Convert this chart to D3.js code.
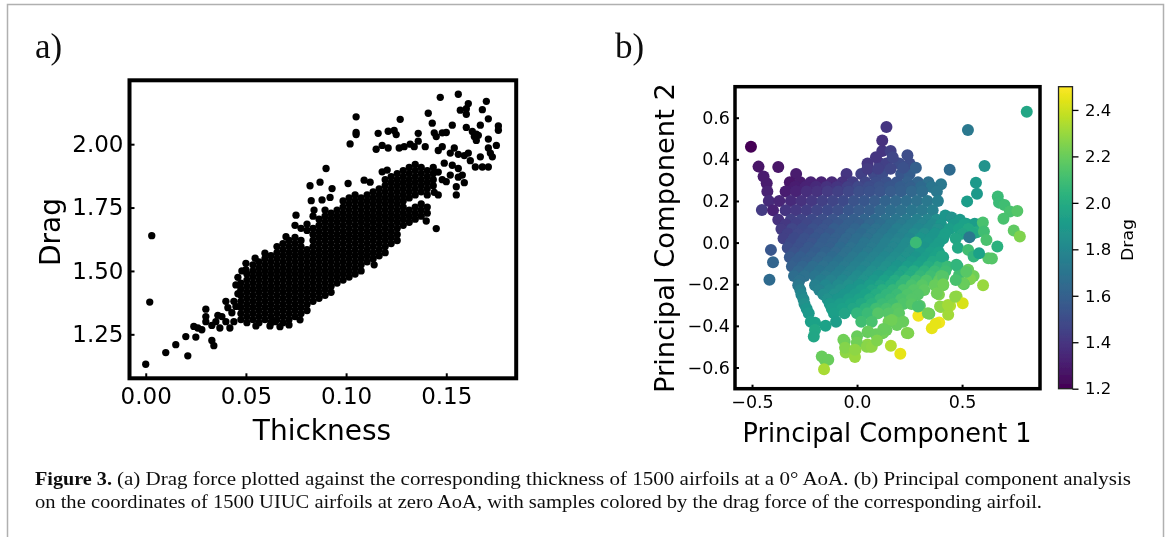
<!DOCTYPE html>
<html>
<head>
<meta charset="utf-8">
<script src="https://cdn.jsdelivr.net/npm/d3@7"></script>
<style>
html,body{margin:0;padding:0;background:#fff;}
svg{display:block;}
.mpl{font-family:"DejaVu Sans";fill:#000;}
.serif{font-family:"Liberation Serif";fill:#111;}
</style>
</head>
<body>
<svg id="fig" width="1167" height="537"></svg>
<script>
// panel a, scattered points read one by one: [thickness, drag]
var looseA=[[0,1.132],[.010,1.178],[.015,1.209],[.020,1.241],[.021,1.165],[.025,1.239],[.033,1.226],[.034,1.205],[.002,1.377],[.003,1.639],
[.024,1.281],[.026,1.275],[.028,1.268],[.030,1.349],[.030,1.32],[.030,1.30],[.033,1.285],[.036,1.325],[.038,1.32],[.040,1.38],[.041,1.355],[.037,1.275],[.042,1.275],[.044,1.30],[.044,1.38],[.046,1.41],[.045,1.445],[.050,1.53],[.050,1.505],[.0546,1.55],[.0595,1.57],[.0646,1.30],
[.043,1.335],[.045,1.36],[.040,1.30],[.035,1.30],[.046,1.475],[.048,1.50],[.055,1.283],[.062,1.283],[.067,1.28],
[.0715,1.287],[.077,1.307],[.070,1.635],[.075,1.72],[.084,1.74],[.082,1.836],[.0826,1.777],[.087,1.85],[.09,1.904],[.093,1.825],[.092,1.79],[.088,1.78],[.101,1.845],[.109,1.858],[.112,1.85],[.118,1.891],[.1205,1.898],[.14,1.697],[.145,1.667],[.114,1.524],
[.156,2.197],[.147,2.185],[.170,2.169],[.161,2.16],[.168,2.136],[.157,2.134],[.160,2.14],[.160,2.118],[.141,2.122],[.105,2.108],[.127,2.098],[.171,2.10],[.143,2.083],[.176,2.072],[.176,2.055],[.167,2.075],[.160,2.066],[.153,2.075],[.121,2.051],[.124,2.054],[.116,2.043],[.105,2.046],[.105,2.038],[.102,2.001],[.125,2.038],[.136,2.043],[.144,2.045],[.150,2.046],[.148,2.045],[.145,2.03],[.163,2.05],[.165,2.04],
[.115,1.98],[.118,1.995],[.121,1.985],[.1265,1.985],[.129,1.99],[.132,2.0],[.134,1.99],[.136,2.012],[.1395,1.99],[.146,1.975],[.148,1.99],[.152,1.965],[.156,1.96],[.159,1.955],[.154,1.985],[.161,1.965],[.162,1.935],[.1645,1.91],[.168,1.91],[.171,1.91],[.167,1.95],[.171,1.985],[.173,1.95],[.172,1.965],[.175,1.995],[.171,2.02],[.164,2.03],[.166,2.035],[.165,2.015],
[.149,1.925],[.153,1.917],[.156,1.904],[.152,1.878],[.15,1.852],[.158,1.878],[.159,1.848],[.156,1.87],[.155,1.832],[.155,1.80],[.146,1.89],[.148,1.86],[.144,1.81],[.146,1.80]];

// panel a, the saturated band read column by column: thickness first, then the drags there
var bandA=[[.0475,1.308,1.332,1.356,1.38,1.404,1.428,1.452],
[.0505,1.296,1.32,1.344,1.368,1.392,1.416,1.44,1.464,1.488],
[.0535,1.308,1.332,1.356,1.38,1.404,1.428,1.452,1.476,1.50,1.524],
[.0565,1.296,1.32,1.344,1.368,1.392,1.416,1.44,1.464,1.488,1.512,1.536],
[.0595,1.308,1.332,1.356,1.38,1.404,1.428,1.452,1.476,1.50,1.524,1.548],
[.0625,1.296,1.32,1.344,1.368,1.392,1.416,1.44,1.464,1.488,1.512,1.536,1.56],
[.0655,1.308,1.332,1.356,1.38,1.404,1.428,1.452,1.476,1.50,1.524,1.548,1.572,1.596],
[.0685,1.296,1.32,1.344,1.368,1.392,1.416,1.44,1.464,1.488,1.512,1.536,1.56,1.584,1.608],
[.0715,1.308,1.332,1.356,1.38,1.404,1.428,1.452,1.476,1.50,1.524,1.548,1.572,1.596,1.62],
[.0745,1.32,1.344,1.368,1.392,1.416,1.44,1.464,1.488,1.512,1.536,1.56,1.584,1.608,1.632,1.68],
[.0775,1.332,1.356,1.38,1.404,1.428,1.452,1.476,1.50,1.524,1.548,1.572,1.596,1.62,1.668],
[.0805,1.344,1.368,1.392,1.416,1.44,1.464,1.488,1.512,1.536,1.56,1.584,1.66,1.685],
[.0835,1.38,1.404,1.428,1.452,1.476,1.50,1.524,1.548,1.572,1.596,1.62,1.644,1.668,1.716],
[.0865,1.392,1.416,1.44,1.464,1.488,1.512,1.536,1.56,1.584,1.608,1.632,1.656,1.68,1.704],
[.0895,1.404,1.428,1.452,1.476,1.50,1.524,1.548,1.572,1.596,1.62,1.644,1.668,1.692,1.716,1.74],
[.0925,1.416,1.44,1.464,1.488,1.512,1.536,1.56,1.584,1.608,1.632,1.656,1.68,1.704,1.728],
[.0955,1.452,1.476,1.50,1.524,1.548,1.572,1.596,1.62,1.644,1.668,1.692,1.716,1.74],
[.0985,1.464,1.488,1.512,1.536,1.56,1.584,1.608,1.632,1.656,1.68,1.704,1.728,1.752,1.776],
[.1015,1.476,1.50,1.524,1.548,1.572,1.596,1.62,1.644,1.668,1.692,1.716,1.74,1.764,1.788],
[.1045,1.488,1.512,1.536,1.56,1.584,1.608,1.632,1.656,1.68,1.704,1.728,1.752,1.776,1.80],
[.1075,1.50,1.524,1.548,1.572,1.596,1.62,1.644,1.668,1.692,1.716,1.74,1.764,1.788],
[.1105,1.536,1.56,1.584,1.608,1.632,1.656,1.68,1.704,1.728,1.752,1.776,1.80],
[.1135,1.548,1.572,1.596,1.62,1.644,1.668,1.692,1.716,1.74,1.764,1.788,1.812],
[.1165,1.56,1.584,1.608,1.632,1.656,1.68,1.704,1.728,1.752,1.776,1.80,1.824],
[.1195,1.572,1.596,1.62,1.644,1.668,1.692,1.716,1.74,1.764,1.788,1.812,1.836,1.86],
[.1225,1.608,1.632,1.656,1.68,1.704,1.728,1.752,1.776,1.80,1.824,1.848,1.872],
[.1255,1.62,1.644,1.668,1.692,1.716,1.74,1.764,1.788,1.812,1.836,1.86,1.884],
[.1285,1.68,1.704,1.728,1.752,1.776,1.80,1.824,1.848,1.872,1.896],
[.1315,1.692,1.716,1.74,1.788,1.812,1.836,1.86,1.884,1.908],
[.1345,1.704,1.728,1.752,1.80,1.824,1.848,1.872,1.896,1.92],
[.1375,1.716,1.74,1.764,1.812,1.836,1.86,1.884,1.908],
[.1405,1.728,1.752,1.80,1.824,1.848,1.872,1.896],
[.1435,1.836,1.86,1.884,1.908]];

// panel b: [pc1, pc2, drag]
var pointsB=[[-.29,.33,1.30],[-.05,.33,1.40],[.02,.33,1.45],[.08,.33,1.48],[.12,.33,1.5],[.21,.33,1.55],[.25,.33,1.58],
[.05,.38,1.4],[.11,.38,1.42],[.14,.38,1.45],[.2,.38,1.5],[.25,.38,1.5],[.12,.44,1.4],[.16,.44,1.45],[.12,.49,1.38],[.09,.41,1.4],[.17,.41,1.47],[.22,.36,1.52],[.05,.355,1.42],[.10,.355,1.45],[.16,.355,1.47],[.24,.42,1.5],[.28,.36,1.6],
[-.32,.29,1.28],[-.27,.29,1.3],[-.22,.29,1.33],[-.17,.29,1.33],[-.12,.29,1.35],[-.07,.29,1.38],[-.02,.29,1.43],[.04,.29,1.46],[.09,.29,1.5],[.14,.29,1.52],[.19,.29,1.55],[.24,.29,1.6],[.29,.29,1.62],[.34,.29,1.68],[.40,.28,1.72],
[-.295,.2675,1.31],[-.245,.2675,1.33],[-.195,.2675,1.36],[-.145,.2675,1.39],[-.095,.2675,1.40],[-.045,.2675,1.44],[.005,.2675,1.48],[.055,.2675,1.5],[.105,.2675,1.53],[.155,.2675,1.55],[.205,.2675,1.58],[.255,.2675,1.6],[.305,.2675,1.65],[.355,.2675,1.7],
[-.43,.285,1.3],[-.427,.245,1.32],[-.34,.245,1.31],[-.29,.245,1.33],[-.24,.245,1.37],[-.19,.245,1.38],[-.14,.245,1.42],[-.09,.245,1.44],[-.04,.245,1.47],[.01,.245,1.51],[.06,.245,1.52],[.11,.245,1.54],[.16,.245,1.57],[.21,.245,1.59],[.26,.245,1.63],[.31,.245,1.66],[.38,.245,1.72],
[-.42,.20,1.36],[-.37,.20,1.34],[-.315,.20,1.36],[-.265,.20,1.38],[-.215,.20,1.41],[-.165,.20,1.44],[-.115,.20,1.46],[-.065,.20,1.49],[-.015,.20,1.53],[.035,.20,1.55],[.085,.20,1.57],[.135,.20,1.61],[.185,.20,1.63],[.235,.20,1.66],[.285,.20,1.68],[.335,.20,1.72],[.385,.20,1.75],
[-.453,.157,1.42],[-.40,.155,1.33],[-.34,.155,1.4],[-.29,.155,1.41],[-.24,.155,1.43],[-.19,.155,1.46],[-.14,.155,1.49],[-.09,.155,1.51],[-.04,.155,1.55],[.01,.155,1.57],[.06,.155,1.59],[.11,.155,1.63],[.16,.155,1.66],[.21,.155,1.68],[.26,.155,1.71],[.31,.155,1.73],[.36,.155,1.76],
[-.375,.11,1.38],[-.315,.11,1.44],[-.265,.11,1.46],[-.215,.11,1.49],[-.165,.11,1.51],[-.115,.11,1.54],[-.065,.11,1.57],[-.015,.11,1.59],[.035,.11,1.62],[.085,.11,1.65],[.135,.11,1.68],[.185,.11,1.7],[.235,.11,1.73],[.285,.11,1.76],[.335,.11,1.79],[.38,.11,1.84],[.42,.13,1.88],[.45,.12,1.87],[.49,.11,1.9],[.52,.09,1.93],[.56,.09,1.92],
[-.34,.0875,1.41],[-.29,.0875,1.45],[-.24,.0875,1.47],[-.19,.0875,1.5],[-.14,.0875,1.53],[-.09,.0875,1.56],[-.04,.0875,1.59],[.01,.0875,1.6],[.06,.0875,1.63],[.11,.0875,1.66],[.16,.0875,1.7],[.21,.0875,1.73],[.26,.0875,1.76],[.31,.0875,1.79],[.36,.0875,1.82],[.40,.0875,1.88],[.46,.0875,1.9],[.51,.0875,1.94],
[-.36,.065,1.42],[-.31,.065,1.47],[-.26,.065,1.49],[-.21,.065,1.52],[-.16,.065,1.54],[-.11,.065,1.58],[-.06,.065,1.6],[-.01,.065,1.62],[.04,.065,1.66],[.09,.065,1.68],[.14,.065,1.7],[.19,.065,1.75],[.24,.065,1.77],[.29,.065,1.8],[.34,.065,1.82],[.385,.065,1.86],[.44,.065,1.92],[.485,.065,1.95],[.53,.065,1.98],[.57,.05,2.0],
[-.33,.0425,1.45],[-.28,.0425,1.48],[-.23,.0425,1.5],[-.18,.0425,1.54],[-.13,.0425,1.56],[-.08,.0425,1.59],[-.03,.0425,1.63],[.02,.0425,1.65],[.07,.0425,1.68],[.12,.0425,1.71],[.17,.0425,1.74],[.22,.0425,1.78],[.27,.0425,1.82],[.32,.0425,1.85],[.37,.0425,1.88],[.42,.0425,1.93],[.5,.0425,1.96],[.55,.0425,1.98],
[-.35,.02,1.45],[-.3,.02,1.49],[-.25,.02,1.52],[-.2,.02,1.55],[-.15,.02,1.58],[-.10,.02,1.6],[-.05,.02,1.63],[0,.02,1.66],[.05,.02,1.68],[.1,.02,1.72],[.15,.02,1.75],[.2,.02,1.77],[.25,.02,1.8],[.3,.02,1.88],[.35,.02,1.88],[.41,.02,1.93],[.47,.02,1.97],
[-.315,-.0025,1.49],[-.265,-.0025,1.52],[-.215,-.0025,1.54],[-.165,-.0025,1.58],[-.115,-.0025,1.6],[-.065,-.0025,1.63],[-.015,-.0025,1.66],[.035,-.0025,1.7],[.085,-.0025,1.72],[.135,-.0025,1.76],[.185,-.0025,1.79],[.235,-.0025,1.82],[.285,-.0025,1.86],[.335,-.0025,1.89],[.39,-.0025,1.92],
[-.33,-.025,1.5],[-.28,-.025,1.52],[-.23,-.025,1.56],[-.18,-.025,1.59],[-.13,-.025,1.6],[-.08,-.025,1.65],[-.03,-.025,1.68],[.02,-.025,1.7],[.07,-.025,1.73],[.12,-.025,1.76],[.17,-.025,1.79],[.22,-.025,1.82],[.27,-.025,1.85],[.32,-.025,1.88],[.37,-.025,1.92],[.48,-.025,1.98],
[-.30,-.0475,1.53],[-.25,-.0475,1.56],[-.2,-.0475,1.58],[-.15,-.0475,1.61],[-.1,-.0475,1.64],[-.05,-.0475,1.67],[0,-.0475,1.7],[.05,-.0475,1.73],[.1,-.0475,1.76],[.15,-.0475,1.79],[.2,-.0475,1.82],[.25,-.0475,1.85],[.3,-.0475,1.9],[.35,-.0475,1.93],[.39,-.0475,1.95],
[-.32,-.07,1.56],[-.27,-.07,1.58],[-.22,-.07,1.6],[-.17,-.07,1.63],[-.12,-.07,1.65],[-.07,-.07,1.68],[-.02,-.07,1.72],[.03,-.07,1.75],[.08,-.07,1.77],[.13,-.07,1.8],[.18,-.07,1.83],[.23,-.07,1.86],[.28,-.07,1.88],[.33,-.07,1.92],[.37,-.07,1.95],[.41,-.07,1.96],
[-.29,-.0925,1.58],[-.24,-.0925,1.6],[-.19,-.0925,1.63],[-.14,-.0925,1.66],[-.09,-.0925,1.69],[-.04,-.0925,1.72],[.01,-.0925,1.75],[.06,-.0925,1.78],[.11,-.0925,1.81],[.16,-.0925,1.84],[.21,-.0925,1.87],[.26,-.0925,1.9],[.31,-.0925,1.93],[.36,-.0925,1.98],[.40,-.0925,2.0],
[-.31,-.115,1.6],[-.26,-.115,1.62],[-.21,-.115,1.66],[-.16,-.115,1.68],[-.11,-.115,1.7],[-.06,-.115,1.73],[-.01,-.115,1.76],[.04,-.115,1.79],[.09,-.115,1.82],[.14,-.115,1.85],[.19,-.115,1.88],[.24,-.115,1.92],[.29,-.115,1.95],[.34,-.115,2.0],[.39,-.115,2.05],[.43,-.115,2.08],
[-.28,-.1375,1.63],[-.23,-.1375,1.66],[-.18,-.1375,1.69],[-.13,-.1375,1.71],[-.08,-.1375,1.74],[-.03,-.1375,1.77],[.02,-.1375,1.8],[.07,-.1375,1.84],[.12,-.1375,1.87],[.17,-.1375,1.9],[.22,-.1375,1.96],[.27,-.1375,2.0],[.32,-.1375,2.04],[.37,-.1375,2.08],[.42,-.1375,2.1],
[-.30,-.16,1.66],[-.25,-.16,1.68],[-.2,-.16,1.7],[-.15,-.16,1.73],[-.1,-.16,1.75],[-.05,-.16,1.78],[0,-.16,1.82],[.05,-.16,1.85],[.1,-.16,1.88],[.15,-.16,1.92],[.2,-.16,1.96],[.25,-.16,2.0],[.3,-.16,2.06],[.35,-.16,2.1],[.40,-.16,2.15],
[-.275,-.1825,1.68],[-.175,-.1825,1.74],[-.125,-.1825,1.77],[-.07,-.1825,1.8],[-.02,-.1825,1.83],[.03,-.1825,1.87],[.08,-.1825,1.9],[.13,-.1825,1.95],[.18,-.1825,2.0],[.23,-.1825,2.06],[.28,-.1825,2.1],[.33,-.1825,2.14],[.39,-.1825,2.18],
[-.28,-.205,1.72],[-.2,-.205,1.76],[-.15,-.205,1.8],[-.09,-.205,1.82],[-.04,-.205,1.85],[.01,-.205,1.88],[.06,-.205,1.92],[.11,-.205,1.96],[.16,-.205,2.0],[.21,-.205,2.06],[.26,-.205,2.12],[.31,-.205,2.16],[.37,-.205,2.2],[.41,-.205,2.2],
[-.27,-.2275,1.76],[-.18,-.2275,1.78],[-.13,-.2275,1.82],[-.08,-.2275,1.85],[-.03,-.2275,1.88],[.02,-.2275,1.92],[.07,-.2275,1.96],[.12,-.2275,2.02],[.17,-.2275,2.06],[.22,-.2275,2.12],[.27,-.2275,2.15],[.32,-.2275,2.18],
[-.265,-.25,1.8],[-.16,-.25,1.83],[-.11,-.25,1.86],[-.06,-.25,1.88],[-.01,-.25,1.91],[.04,-.25,1.95],[.09,-.25,2.0],[.14,-.25,2.05],[.19,-.25,2.08],[.24,-.25,2.14],[.29,-.25,2.15],[.39,-.25,2.25],
[-.255,-.2725,1.82],[-.14,-.2725,1.86],[-.09,-.2725,1.88],[-.04,-.2725,1.92],[.01,-.2725,1.95],[.06,-.2725,2.0],[.11,-.2725,2.05],[.16,-.2725,2.08],[.21,-.2725,2.13],[.26,-.2725,2.15],
[-.25,-.295,1.85],[-.13,-.295,1.9],[-.08,-.295,1.92],[-.03,-.295,1.95],[.02,-.295,1.98],[.07,-.295,2.03],[.12,-.295,2.08],[.17,-.295,2.1],[.22,-.295,2.14],[.26,-.295,2.16],
[-.24,-.3175,1.88],[-.12,-.3175,1.92],[-.07,-.3175,1.94],[-.02,-.3175,1.97],[.04,-.3175,2.04],[.09,-.3175,2.1],[.14,-.3175,2.12],[.19,-.3175,2.16],
[-.23,-.34,1.9],[-.11,-.34,1.93],[-.06,-.34,1.96],[0,-.34,2.05],[.05,-.34,2.08],[.1,-.34,2.15],[.15,-.34,2.15],[.2,-.34,2.17],
[-.22,-.38,1.93],[-.2,-.385,1.95],[-.1,-.38,1.92],[.02,-.38,2.1],[.07,-.38,2.12],[.15,-.38,2.22],[.18,-.38,2.2],[.22,-.38,2.2],[.14,-.42,2.2],[-.2,-.42,1.98],[-.15,-.40,1.95],[-.206,-.451,1.97],
[-.505,.461,1.2],[-.469,.365,1.27],[-.375,.363,1.27],[-.445,.317,1.3],[.14,.555,1.4],[.528,.541,1.72],[.808,.629,1.97],[.441,.35,1.65],[.607,.368,1.87],[.566,.288,1.9],[.571,.235,1.9],[.524,.198,1.92],
[.67,.221,2.08],[.676,.192,2.08],[.702,.181,2.1],[.728,.149,2.12],[.763,.152,2.15],[.697,.114,2.12],[.746,.058,2.18],[.775,.029,2.25],[.668,-.019,2.03],[.535,.026,1.72],[.599,.096,2.12],[.604,.053,2.1],[.616,.013,2.12],[.625,-.075,2.15],[.642,-.077,2.15],[.529,-.035,2.1],[.555,-.067,2.05],[.581,-.051,1.95],[.28,.0,2.08],
[.478,-.112,2.05],[.486,-.155,2.1],[.529,-.131,2.2],[.555,-.16,2.22],[.538,-.176,2.25],[.509,-.2,2.18],[.6,-.205,2.3],[.474,-.259,2.3],[.503,-.291,2.42],[.443,-.304,2.35],[.40,-.31,2.3],[.434,-.347,2.32],[.391,-.384,2.47],[.356,-.411,2.45],[.374,-.39,2.45],[.344,-.342,2.2],[.292,-.352,2.47],[.299,-.304,2.15],[.244,-.435,2.25],[.206,-.534,2.45],[.161,-.496,2.35],[.123,-.435,2.2],[.062,-.50,2.3],[.05,-.43,2.18],[0,-.45,2.2],[-.059,-.475,2.2],[-.054,-.528,2.28],[-.007,-.515,2.3],[-.01,-.55,2.3],[.05,-.49,2.28],[-.154,-.563,2.2],[-.168,-.547,2.2],[-.137,-.563,2.2],[-.157,-.608,2.33],
[-.065,-.467,2.22],[-.057,-.505,2.26],[-.001,-.48,2.22],[-.01,-.515,2.28],[.053,-.427,2.2],[.046,-.5,2.27],[.07,-.5,2.28],[.118,-.434,2.22],[.125,-.415,2.2],[.19,-.396,2.2],[.237,-.434,2.25],[.165,-.372,2.22],[.29,-.307,2.12],[.337,-.34,2.22],[.395,-.307,2.28],[.433,-.3,2.32],[.467,-.26,2.28],[.38,-.243,2.22],[.473,-.107,2.05],[.52,-.14,2.16],[.505,-.195,2.2],[.403,-.067,1.98],[.41,-.163,2.15],[.41,-.2,2.22],[.47,-.18,2.12],[.09,-.44,2.2],[.095,-.47,2.25],
[-.417,-.179,1.65],[-.40,-.094,1.62],[-.41,-.035,1.55]];

var xTicksA=[0,.05,.10,.15];
var yTicksA=[1.25,1.50,1.75,2.00];
var xTicksB=[-.5,0,.5];
var yTicksB=[-.6,-.4,-.2,0,.2,.4,.6];
var dragTicks=[1.2,1.4,1.6,1.8,2.0,2.2,2.4];

var svg=d3.select("#fig");
var defs=svg.append("defs");

// the reference is a slightly soft raster
defs.append("filter").attr("id","soft")
	.attr("filterUnits","userSpaceOnUse")
	.attr("x",0).attr("y",0).attr("width",1167).attr("height",537)
	.append("feGaussianBlur").attr("stdDeviation",.4);
var root=svg.append("g").attr("filter","url(#soft)");

// page edge lines of the scanned article
root.append("path")
	.attr("d","M7.5,537V4.5H1163.5V537")
	.attr("fill","none")
	.attr("stroke","#b0b0b0")
	.attr("stroke-width",1.5);

function drawFrame(g,x,y,width){
	g.append("rect")
		.attr("x",x.range()[0])
		.attr("y",y.range()[1])
		.attr("width",x.range()[1]-x.range()[0])
		.attr("height",y.range()[0]-y.range()[1])
		.attr("fill","none")
		.attr("stroke","#000")
		.attr("stroke-width",width);
}

function styleAxis(sel,size,lineWidth){
	sel.select(".domain").remove();
	sel.selectAll("line").attr("stroke","#000").attr("stroke-width",lineWidth||2);
	sel.selectAll("text")
		.attr("class","mpl")
		.attr("fill","#000")
		.style("font-size",size+"px");
}

// panel a
var xA=d3.scaleLinear().domain([-.0081,.1849]).range([129.5,516.2]);
var yA=d3.scaleLinear().domain([1.0765,2.252]).range([378.3,80.3]);
var gA=root.append("g");

var bandPoints=bandA.flatMap(function(c){
	return c.slice(1).map(function(d){return [c[0],d];});
});

gA.selectAll("circle.a")
	.data(looseA.concat(bandPoints))
	.enter().append("circle")
	.attr("class","a")
	.attr("cx",function(d){return xA(d[0]);})
	.attr("cy",function(d){return yA(d[1]);})
	.attr("r",3.65)
	.attr("fill","#000");

gA.append("g").attr("transform","translate(0,378.3)")
	.call(d3.axisBottom(xA).tickValues(xTicksA).tickFormat(d3.format(".2f")).tickSize(-5).tickPadding(9.6))
	.call(styleAxis,23);
gA.append("g").attr("transform","translate(129.5,0)")
	.call(d3.axisLeft(yA).tickValues(yTicksA).tickFormat(d3.format(".2f")).tickSize(-5).tickPadding(6))
	.call(styleAxis,23);
drawFrame(gA,xA,yA,4);

gA.append("text").attr("class","mpl")
	.attr("x",322).attr("y",440).attr("text-anchor","middle")
	.style("font-size","28px").text("Thickness");
gA.append("text").attr("class","mpl")
	.attr("transform","translate(60,232) rotate(-90)").attr("text-anchor","middle")
	.style("font-size","28px").text("Drag");

// panel b
var xB=d3.scaleLinear().domain([-.581,.871]).range([735,1040]);
var yB=d3.scaleLinear().domain([-.702,.749]).range([388.7,86.7]);
var colorB=d3.scaleSequential(d3.interpolateViridis).domain([1.2,2.5]);
var gB=root.append("g");

gB.selectAll("circle.b")
	.data(pointsB)
	.enter().append("circle")
	.attr("class","b")
	.attr("cx",function(d){return xB(d[0]);})
	.attr("cy",function(d){return yB(d[1]);})
	.attr("r",6)
	.attr("fill",function(d){return colorB(d[2]);});

gB.append("g").attr("transform","translate(0,388.7)")
	.call(d3.axisBottom(xB).tickValues(xTicksB).tickFormat(d3.format(".1f")).tickSize(-4).tickPadding(7))
	.call(styleAxis,17.5);
gB.append("g").attr("transform","translate(735,0)")
	.call(d3.axisLeft(yB).tickValues(yTicksB).tickFormat(d3.format(".1f")).tickSize(-4).tickPadding(5))
	.call(styleAxis,17.5);
drawFrame(gB,xB,yB,3.5);

gB.append("text").attr("class","mpl")
	.attr("x",887).attr("y",442).attr("text-anchor","middle")
	.attr("textLength",289).attr("lengthAdjust","spacingAndGlyphs")
	.style("font-size","27px").text("Principal Component 1");
gB.append("text").attr("class","mpl")
	.attr("transform","translate(674,238) rotate(-90)").attr("text-anchor","middle")
	.attr("textLength",310).attr("lengthAdjust","spacingAndGlyphs")
	.style("font-size","27px").text("Principal Component 2");

// colorbar
var yBar=d3.scaleLinear().domain([1.2,2.5]).range([388.7,86.7]);
var grad=defs.append("linearGradient").attr("id","viridisBar")
	.attr("x1",0).attr("y1",1).attr("x2",0).attr("y2",0);
d3.range(0,1.001,.05).forEach(function(t){
	grad.append("stop").attr("offset",t).attr("stop-color",d3.interpolateViridis(t));
});
gB.append("rect")
	.attr("x",1058.5).attr("y",86.7).attr("width",14).attr("height",302)
	.attr("fill","url(#viridisBar)")
	.attr("stroke","#222").attr("stroke-width",1.3);
gB.append("g").attr("transform","translate(1072.5,0)")
	.call(d3.axisRight(yBar).tickValues(dragTicks).tickFormat(d3.format(".1f")).tickSize(6).tickPadding(6.5))
	.call(styleAxis,16.5,1.3);
gB.append("text").attr("class","mpl")
	.attr("transform","translate(1133,240) rotate(-90)").attr("text-anchor","middle")
	.attr("textLength",42).attr("lengthAdjust","spacingAndGlyphs")
	.style("font-size","16px").text("Drag");

// panel letters
root.append("text").attr("class","serif").attr("x",35).attr("y",58).style("font-size","35px").text("a)");
root.append("text").attr("class","serif").attr("x",615).attr("y",58).style("font-size","35px").text("b)");

// caption
function captionLine(x,y,len,txt,bold){
	root.append("text").attr("class","serif")
		.attr("x",x).attr("y",y)
		.attr("textLength",len).attr("lengthAdjust","spacingAndGlyphs")
		.style("font-size","19px")
		.style("font-weight",bold?"bold":"normal")
		.text(txt);
}
captionLine(35,484.5,77,"Figure 3.",true);
captionLine(117,484.5,1014,"(a) Drag force plotted against the corresponding thickness of 1500 airfoils at a 0\u00b0 AoA. (b) Principal component analysis",false);
captionLine(35,507.5,1007,"on the coordinates of 1500 UIUC airfoils at zero AoA, with samples colored by the drag force of the corresponding airfoil.",false);
</script>
</body>
</html>
